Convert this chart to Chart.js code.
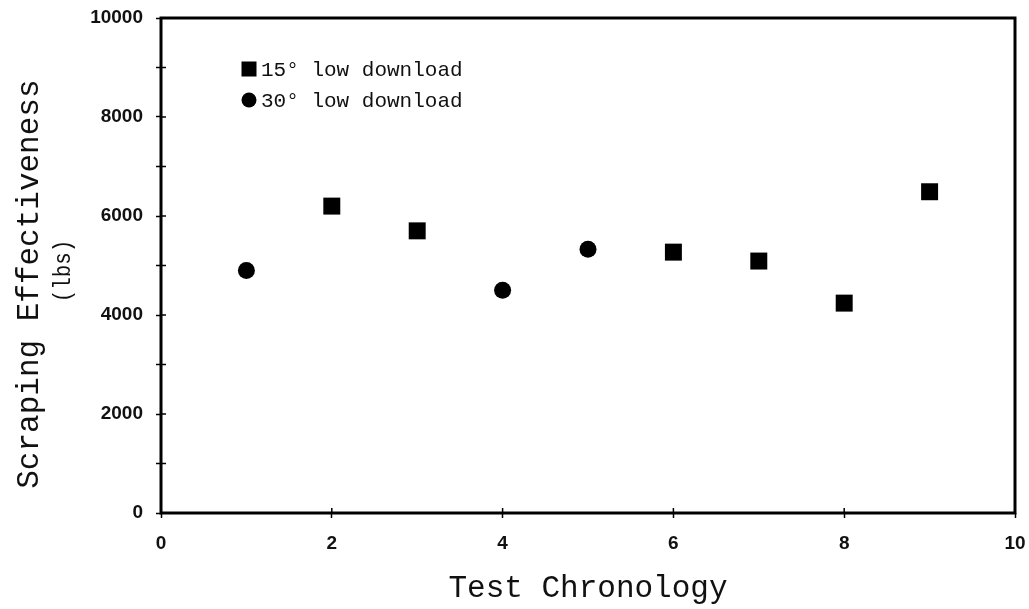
<!DOCTYPE html>
<html>
<head>
<meta charset="utf-8">
<script src="https://cdn.jsdelivr.net/npm/chart.js@4.4.1/dist/chart.umd.min.js"></script>
<style>
  html, body { margin: 0; padding: 0; background: #fff; }
  canvas { display: block; }
</style>
</head>
<body>
<canvas id="c" width="1029" height="609"></canvas>
<script>
// Test runs and measured scraping effectiveness (lbs) for each download angle
const testsLow15 = [2, 3, 6, 7, 8, 9];
const effortLow15 = [6200, 5700, 5270, 5090, 4240, 6490];
const testsLow30 = [1, 4, 5];
const effortLow30 = [4900, 4500, 5330];

const seriesNames = ['15\u00B0 low download', '30\u00B0 low download'];
const xTickValues = [0, 2, 4, 6, 8, 10];
const yLabelValues = [0, 2000, 4000, 6000, 8000, 10000];
const xTitle = 'Test Chronology';
const yTitle = 'Scraping Effectiveness  ';
const yUnit = '(lbs)';

const monoFamily = '"Liberation Mono", "Courier New", monospace';
const sansFamily = '"Liberation Sans", Arial, sans-serif';

const toPoints = (xs, ys) => xs.map((v, i) => ({ x: v, y: ys[i] }));

// keep the plot box where the layout puts it, without extra room for edge labels
const noEdgePadding = (s) => {
  s.paddingLeft = 0; s.paddingRight = 0; s.paddingTop = 0; s.paddingBottom = 0;
};

// Frame around the plot, inward tick marks, the unit line of the y title and the inset key
const framePlugin = {
  id: 'frame',
  afterDraw(chart) {
    const { ctx, chartArea: a, scales: { x, y } } = chart;
    ctx.save();
    ctx.strokeStyle = '#000';
    ctx.lineWidth = 3;
    ctx.strokeRect(a.left, a.top, a.right - a.left, a.bottom - a.top);

    ctx.lineWidth = 1.5;
    ctx.beginPath();
    x.ticks.forEach(t => {
      const px = x.getPixelForValue(t.value);
      ctx.moveTo(px, a.bottom);
      ctx.lineTo(px, a.bottom - 5);
    });
    y.ticks.forEach(t => {
      const py = y.getPixelForValue(t.value);
      ctx.moveTo(a.left, py);
      ctx.lineTo(a.left + 5, py);
    });
    ctx.stroke();

    // unit line under the y axis title (narrow-set)
    ctx.save();
    ctx.translate(64, (a.top + a.bottom) / 2 + 5.5);
    ctx.rotate(-Math.PI / 2);
    ctx.scale(0.87, 1);
    ctx.fillStyle = '#111';
    ctx.font = '24px ' + monoFamily;
    ctx.textAlign = 'center';
    ctx.textBaseline = 'middle';
    ctx.fillText(yUnit, 0, 0);
    ctx.restore();

    // key
    const mx = a.left + 88;
    const rows = [a.top + 51, a.top + 82];
    ctx.fillStyle = '#000';
    ctx.fillRect(mx - 7.5, rows[0] - 7.5, 15, 15);
    ctx.beginPath();
    ctx.arc(mx, rows[1], 7.5, 0, Math.PI * 2);
    ctx.fill();
    ctx.fillStyle = '#111';
    ctx.font = '21px ' + monoFamily;
    ctx.textBaseline = 'middle';
    ctx.textAlign = 'left';
    chart.data.datasets.forEach((ds, i) => {
      ctx.fillText(ds.label, a.left + 100, rows[i] + 1);
    });
    ctx.restore();
  }
};

new Chart(document.getElementById('c'), {
  type: 'scatter',
  data: {
    datasets: [
      {
        label: seriesNames[0],
        data: toPoints(testsLow15, effortLow15),
        pointStyle: 'rect',
        pointRadius: 12,
        pointHoverRadius: 12,
        backgroundColor: '#000',
        borderWidth: 0
      },
      {
        label: seriesNames[1],
        data: toPoints(testsLow30, effortLow30),
        pointStyle: 'circle',
        pointRadius: 8.5,
        pointHoverRadius: 8.5,
        backgroundColor: '#000',
        borderWidth: 0
      }
    ]
  },
  options: {
    responsive: false,
    animation: false,
    devicePixelRatio: 1,
    layout: { padding: { top: 18, right: 14, left: 0, bottom: 0 } },
    plugins: {
      legend: { display: false },
      tooltip: { enabled: false }
    },
    scales: {
      x: {
        type: 'linear',
        min: 0,
        max: 10,
        afterBuildTicks: s => { s.ticks = xTickValues.map(v => ({ value: v })); },
        afterFit: s => { s.height = 96; noEdgePadding(s); },
        border: { display: false },
        grid: { drawOnChartArea: false, drawTicks: true, tickLength: 5, tickWidth: 1.5, tickColor: '#000' },
        ticks: {
          padding: 14,
          color: '#111',
          font: { family: sansFamily, size: 19, weight: 'bold' },
          callback: v => String(v)
        },
        title: {
          display: true,
          text: xTitle,
          color: '#111',
          font: { family: monoFamily, size: 31, lineHeight: 1.1 },
          padding: { top: 0, bottom: 3 }
        }
      },
      y: {
        type: 'linear',
        min: 0,
        max: 10000,
        ticks: {
          stepSize: 1000,
          autoSkip: false,
          padding: 13,
          color: '#111',
          font: { family: sansFamily, size: 19, weight: 'bold' },
          callback: v => (yLabelValues.includes(v) ? String(v) : '')
        },
        afterFit: s => { s.width = 161; noEdgePadding(s); },
        border: { display: false },
        grid: { drawOnChartArea: false, drawTicks: true, tickLength: 5, tickWidth: 1.5, tickColor: '#000' },
        title: {
          display: true,
          text: yTitle,
          color: '#111',
          font: { family: monoFamily, size: 31, lineHeight: 1.1 },
          padding: { top: 13, bottom: 0 }
        }
      }
    }
  },
  plugins: [framePlugin]
});
</script>
</body>
</html>
